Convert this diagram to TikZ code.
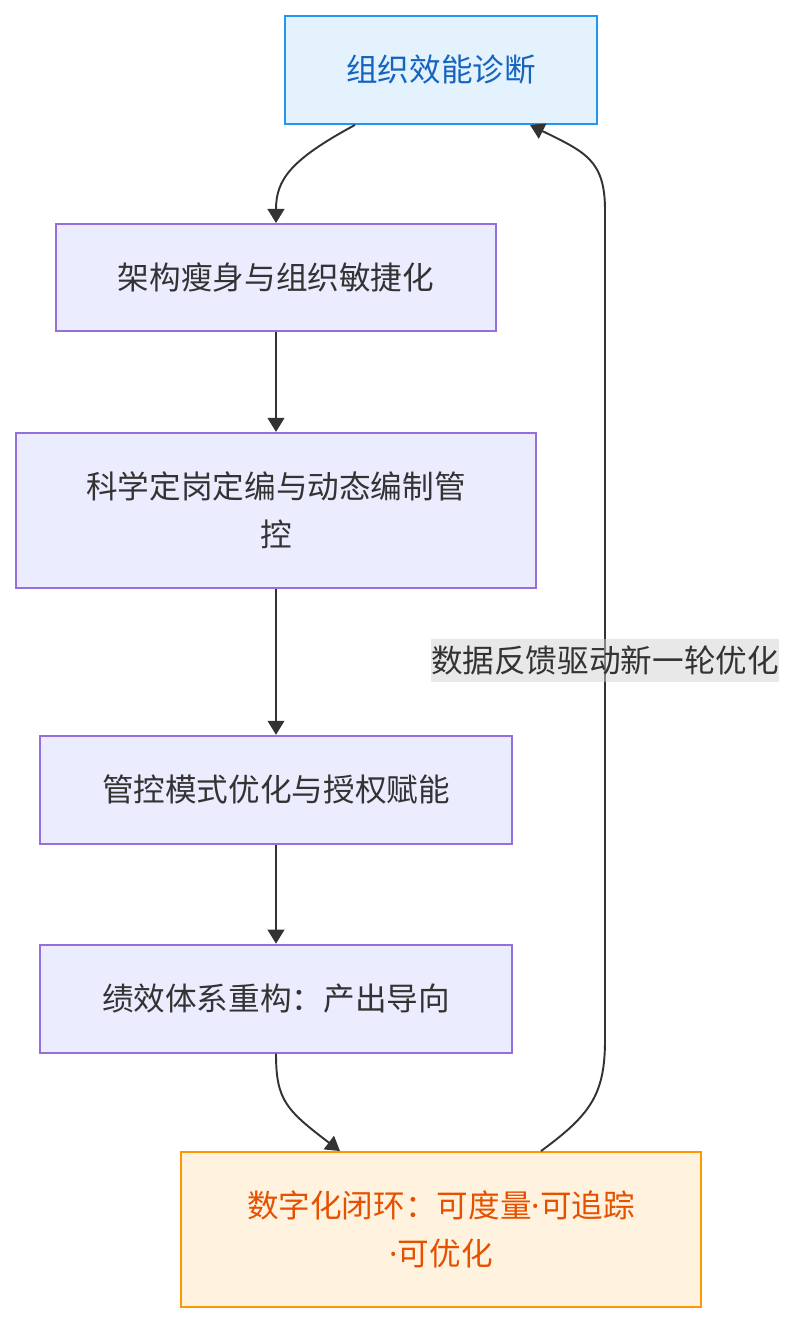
\documentclass[tikz,border=0pt]{standalone}
\usepackage{fontspec}
\setmainfont{Noto Sans CJK SC}
\newfontfamily\latinfont{Noto Sans}
\usepackage{xcolor}
\usetikzlibrary{arrows.meta,positioning,calc}

\definecolor{boxfill}{HTML}{ECECFF}
\definecolor{boxline}{HTML}{9370DB}
\definecolor{ink}{HTML}{333333}
\definecolor{bluefill}{HTML}{E3F2FD}
\definecolor{blueline}{HTML}{2196F3}
\definecolor{bluetext}{HTML}{1565C0}
\definecolor{orgfill}{HTML}{FFF3E0}
\definecolor{orgline}{HTML}{FF9800}
\definecolor{orgtext}{HTML}{E65100}
\definecolor{lblfill}{HTML}{D1D1D1}

\newcommand{\mdot}{{\latinfont ·}}

\begin{document}
\begin{tikzpicture}[x=0.02cm, y=-0.02cm,
  stage/.style={draw=boxline, fill=boxfill, line width=1.1pt, align=center,
                text=ink, font=\fontsize{18}{27}\selectfont, inner sep=0pt},
  start/.style={stage, draw=blueline, fill=bluefill, text=bluetext},
  close/.style={stage, draw=orgline, fill=orgfill, text=orgtext},
  lbl/.style={fill=lblfill, fill opacity=0.5, text opacity=1, text=ink,
              font=\fontsize{18}{27}\selectfont, inner xsep=0pt, inner ysep=4pt},
  arr/.style={-{Triangle[length=8pt,width=9.5pt]}, line width=1.1pt, ink}
]
  \useasboundingbox (0,0) rectangle (798,1324);
  % Chain of stages
  \node[start, minimum width=6.24cm, minimum height=2.16cm] (diag) at (441,70) {组织效能诊断};
  \node[stage, minimum width=8.8cm, minimum height=2.14cm] (slim) at (276,277.5) {架构瘦身与组织敏捷化};
  \node[stage, minimum width=10.4cm, minimum height=3.1cm, below=2cm of slim] (staff) {科学定岗定编与动态编制管\\控};
  \node[stage, minimum width=9.44cm, minimum height=2.16cm, below=2.92cm of staff] (ctrl) {管控模式优化与授权赋能};
  \node[stage, minimum width=9.44cm, minimum height=2.16cm, below=1.98cm of ctrl] (perf) {绩效体系重构：产出导向};
  \node[close, minimum width=10.4cm, minimum height=3.1cm] (loop) at (441,1229.5) {数字化闭环：可度量\mdot 可追踪\\\mdot 可优化};
  % Flow
  \draw[arr] ($(diag.south)+(-86,0)$) .. controls (290,160) and (276,180) .. (slim.north);
  \draw[arr] (slim) -- (staff);
  \draw[arr] (staff) -- (ctrl);
  \draw[arr] (ctrl) -- (perf);
  \draw[arr] (perf.south) .. controls (276,1100) and (286,1110) .. ($(loop.north)+(-101,0)$);
  % Feedback
  \draw[arr] ($(loop.north)+(100,0)$) .. controls (590,1115) and (605,1095) .. (605,1040)
    -- node[lbl, pos=0.457] (fb) {数据反馈驱动新一轮优化} (605,210)
    .. controls (605,160) and (585,152) .. ($(diag.south)+(89,0)$);
\end{tikzpicture}
\end{document}
